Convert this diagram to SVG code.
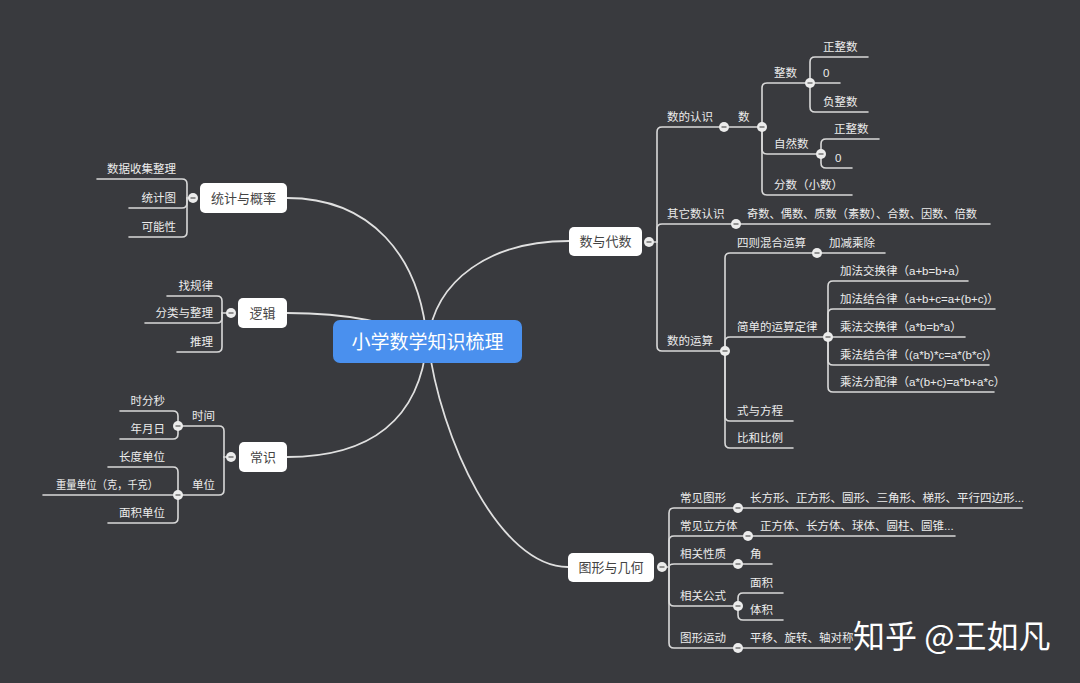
<svg xmlns="http://www.w3.org/2000/svg" width="1080" height="683" viewBox="0 0 1080 683">
<style>
.bg{fill:#393a3e}
.ln{fill:none;stroke:#d9d9d9;stroke-width:1.6;stroke-linecap:round}
.main{fill:none;stroke:#e0e0e0;stroke-width:1.8}
.lb{font-family:"Liberation Sans","Noto Sans CJK SC",sans-serif;font-size:11.5px;fill:#ececec}
.end{text-anchor:end}
.box{fill:#ffffff}
.bt{font-family:"Liberation Sans","Noto Sans CJK SC",sans-serif;font-size:13px;fill:#444;text-anchor:middle}
.ct{font-family:"Liberation Sans","Noto Sans CJK SC",sans-serif;font-size:19px;fill:#ffffff;text-anchor:middle}
.wm{font-family:"Noto Sans CJK SC","Liberation Sans",sans-serif;font-size:32px;fill:#ffffff}
</style>
<defs>
<g id="col"><circle r="5" fill="#ececec"/><line x1="-2.5" y1="0" x2="2.5" y2="0" stroke="#555" stroke-width="1.2"/></g>
</defs>
<rect class="bg" x="0" y="0" width="1080" height="683"/>

<g id="connectors">
<path class="main" d="M287,198 C370,198 420,255 427,341"/>
<path class="main" d="M287,313 C340,313 390,320 427,341"/>
<path class="main" d="M287,457 C370,457 420,420 427,341"/>
<path class="main" d="M569,241 C490,241 435,280 428,341"/>
<path class="main" d="M568,567 C500,567 440,440 428,341"/>

<path class="ln" d="M649,242 H657"/>
<path class="ln" d="M657,242 V132 Q657,127 662,127 H762"/>
<path class="ln" d="M657,242 V229 Q657,224 662,224 H990"/>
<path class="ln" d="M657,242 V346 Q657,351 662,351 H725"/>
<path class="ln" d="M762,127 V88 Q762,83 767,83 H840"/>
<path class="ln" d="M762,127 V149 Q762,154 767,154 H821"/>
<path class="ln" d="M762,127 V190 Q762,195 767,195 H852"/>
<path class="ln" d="M810,83 V62 Q810,57 815,57 H868"/>
<path class="ln" d="M810,83 V107 Q810,112 815,112 H868"/>
<path class="ln" d="M821,154 V144 Q821,139 826,139 H879"/>
<path class="ln" d="M821,154 V163 Q821,168 826,168 H852"/>
<path class="ln" d="M725,351 V258 Q725,253 730,253 H885"/>
<path class="ln" d="M725,351 V342 Q725,337 730,337 H828"/>
<path class="ln" d="M725,351 V416 Q725,421 730,421 H793"/>
<path class="ln" d="M725,351 V443 Q725,448 730,448 H793"/>
<path class="ln" d="M828,337 V286 Q828,281 833,281 H968"/>
<path class="ln" d="M828,337 V314 Q828,309 833,309 H995"/>
<path class="ln" d="M828,337 H965"/>
<path class="ln" d="M828,337 V360 Q828,365 833,365 H989"/>
<path class="ln" d="M828,337 V387 Q828,392 833,392 H994"/>

<path class="ln" d="M662,567 H669"/>
<path class="ln" d="M669,567 V513 Q669,508 674,508 H1022"/>
<path class="ln" d="M669,567 V541 Q669,536 674,536 H955"/>
<path class="ln" d="M669,567 V567 Q669,564 674,564 H772"/>
<path class="ln" d="M669,567 V601 Q669,606 674,606 H738"/>
<path class="ln" d="M669,567 V643 Q669,648 674,648 H850"/>
<path class="ln" d="M738,606 V598 Q738,593 743,593 H783"/>
<path class="ln" d="M738,606 V615 Q738,620 743,620 H783"/>

<path class="ln" d="M193,198 H187"/>
<path class="ln" d="M187,198 V184 Q187,179 182,179 H97"/>
<path class="ln" d="M187,198 V203 Q187,208 182,208 H129"/>
<path class="ln" d="M187,198 V232 Q187,237 182,237 H129"/>

<path class="ln" d="M231,313 H222"/>
<path class="ln" d="M222,313 V301 Q222,296 217,296 H167"/>
<path class="ln" d="M222,313 V318 Q222,323 217,323 H145"/>
<path class="ln" d="M222,313 V347 Q222,352 217,352 H177"/>

<path class="ln" d="M231,457 H224"/>
<path class="ln" d="M224,457 V431 Q224,426 219,426 H178"/>
<path class="ln" d="M224,457 V490 Q224,495 219,495 H178"/>
<path class="ln" d="M178,426 V416 Q178,411 173,411 H120"/>
<path class="ln" d="M178,426 V434 Q178,439 173,439 H120"/>
<path class="ln" d="M178,495 V472 Q178,467 173,467 H108"/>
<path class="ln" d="M178,495 H43"/>
<path class="ln" d="M178,495 V518 Q178,523 173,523 H108"/>
</g>

<g id="center">
<rect x="333" y="320" width="189" height="43" rx="7" fill="#4a90ee"/>
<text class="ct" x="427.5" y="348.5">小学数学知识梳理</text>
</g>

<g id="node-shuyudaishu">
<rect class="box" x="569" y="227" width="73" height="29" rx="5"/>
<text class="bt" x="605.5" y="246">数与代数</text>
<use href="#col" x="649" y="242"/>
</g>
<g id="node-shudrenshi">
<text class="lb" x="667" y="121">数的认识</text>
<use href="#col" x="724" y="127"/>
</g>
<g id="node-shu">
<text class="lb" x="738" y="121">数</text>
<use href="#col" x="762" y="127"/>
</g>
<g id="node-zhengshu">
<text class="lb" x="774" y="77">整数</text>
<use href="#col" x="810" y="83"/>
</g>
<g id="node-zhengzhengshu1"><text class="lb" x="823" y="51">正整数</text></g>
<g id="node-zero1"><text class="lb" x="823" y="77">0</text></g>
<g id="node-fuzhengshu"><text class="lb" x="823" y="106">负整数</text></g>
<g id="node-ziranshu">
<text class="lb" x="774" y="148">自然数</text>
<use href="#col" x="821" y="154"/>
</g>
<g id="node-zhengzhengshu2"><text class="lb" x="834" y="133">正整数</text></g>
<g id="node-zero2"><text class="lb" x="835" y="162">0</text></g>
<g id="node-fenshu"><text class="lb" x="774" y="189">分数（小数）</text></g>
<g id="node-qita">
<text class="lb" x="667" y="218">其它数认识</text>
<use href="#col" x="736" y="224"/>
</g>
<g id="node-qishu"><text class="lb" x="747" y="218" textLength="230" lengthAdjust="spacingAndGlyphs">奇数、偶数、质数（素数）、合数、因数、倍数</text></g>
<g id="node-yunsuan">
<text class="lb" x="667" y="345">数的运算</text>
<use href="#col" x="725" y="351"/>
</g>
<g id="node-sizehunhe">
<text class="lb" x="737" y="247">四则混合运算</text>
<use href="#col" x="817" y="253"/>
</g>
<g id="node-jiajian"><text class="lb" x="829" y="247">加减乘除</text></g>
<g id="node-dinglv">
<text class="lb" x="737" y="331">简单的运算定律</text>
<use href="#col" x="828" y="337"/>
</g>
<g id="node-l1"><text class="lb" x="840" y="275">加法交换律（a+b=b+a）</text></g>
<g id="node-l2"><text class="lb" x="840" y="303">加法结合律（a+b+c=a+(b+c)）</text></g>
<g id="node-l3"><text class="lb" x="840" y="331">乘法交换律（a*b=b*a）</text></g>
<g id="node-l4"><text class="lb" x="840" y="359">乘法结合律（(a*b)*c=a*(b*c)）</text></g>
<g id="node-l5"><text class="lb" x="840" y="386">乘法分配律（a*(b+c)=a*b+a*c）</text></g>
<g id="node-fangcheng"><text class="lb" x="737" y="415">式与方程</text></g>
<g id="node-bili"><text class="lb" x="737" y="442">比和比例</text></g>

<g id="node-tuxing">
<rect class="box" x="568" y="553" width="86" height="29" rx="5"/>
<text class="bt" x="611" y="572">图形与几何</text>
<use href="#col" x="662" y="567"/>
</g>
<g id="node-changjiantuxing">
<text class="lb" x="680" y="502">常见图形</text>
<use href="#col" x="738" y="508"/>
</g>
<g id="node-g1"><text class="lb" x="750" y="502">长方形、正方形、圆形、三角形、梯形、平行四边形...</text></g>
<g id="node-lifangti">
<text class="lb" x="680" y="530">常见立方体</text>
<use href="#col" x="748" y="536"/>
</g>
<g id="node-g2"><text class="lb" x="760" y="530">正方体、长方体、球体、圆柱、圆锥...</text></g>
<g id="node-xingzhi">
<text class="lb" x="680" y="558">相关性质</text>
<use href="#col" x="738" y="564"/>
</g>
<g id="node-jiao"><text class="lb" x="750" y="558">角</text></g>
<g id="node-gongshi">
<text class="lb" x="680" y="600">相关公式</text>
<use href="#col" x="738" y="606"/>
</g>
<g id="node-mianji"><text class="lb" x="750" y="587">面积</text></g>
<g id="node-tiji"><text class="lb" x="750" y="614">体积</text></g>
<g id="node-yundong">
<text class="lb" x="680" y="642">图形运动</text>
<use href="#col" x="738" y="648"/>
</g>
<g id="node-pingyi"><text class="lb" x="750" y="642">平移、旋转、轴对称</text></g>

<g id="node-tongji">
<rect class="box" x="200" y="183" width="87" height="30" rx="5"/>
<text class="bt" x="243.5" y="202.5">统计与概率</text>
<use href="#col" x="193" y="198"/>
</g>
<g id="node-shuju"><text class="lb end" x="176" y="173">数据收集整理</text></g>
<g id="node-tongjitu"><text class="lb end" x="176" y="202">统计图</text></g>
<g id="node-kenengxing"><text class="lb end" x="176" y="231">可能性</text></g>

<g id="node-luoji">
<rect class="box" x="238" y="298" width="49" height="30" rx="5"/>
<text class="bt" x="262.5" y="317.5">逻辑</text>
<use href="#col" x="231" y="313"/>
</g>
<g id="node-guilv"><text class="lb end" x="213" y="290">找规律</text></g>
<g id="node-fenlei"><text class="lb end" x="213" y="317">分类与整理</text></g>
<g id="node-tuili"><text class="lb end" x="213" y="346">推理</text></g>

<g id="node-changshi">
<rect class="box" x="239" y="442" width="48" height="30" rx="5"/>
<text class="bt" x="263" y="461.5">常识</text>
<use href="#col" x="231" y="457"/>
</g>
<g id="node-shijian">
<text class="lb" x="192" y="420">时间</text>
<use href="#col" x="178" y="426"/>
</g>
<g id="node-shifenmiao"><text class="lb end" x="165" y="405">时分秒</text></g>
<g id="node-nianyueri"><text class="lb end" x="165" y="433">年月日</text></g>
<g id="node-danwei">
<text class="lb" x="192" y="489">单位</text>
<use href="#col" x="178" y="495"/>
</g>
<g id="node-changdu"><text class="lb end" x="165" y="461">长度单位</text></g>
<g id="node-zhongliang"><text class="lb" x="56" y="489" textLength="102" lengthAdjust="spacingAndGlyphs">重量单位（克，千克）</text></g>
<g id="node-mianjidanwei"><text class="lb end" x="165" y="517">面积单位</text></g>

<text class="wm" x="853" y="648">知乎 @王如凡</text>
</svg>
